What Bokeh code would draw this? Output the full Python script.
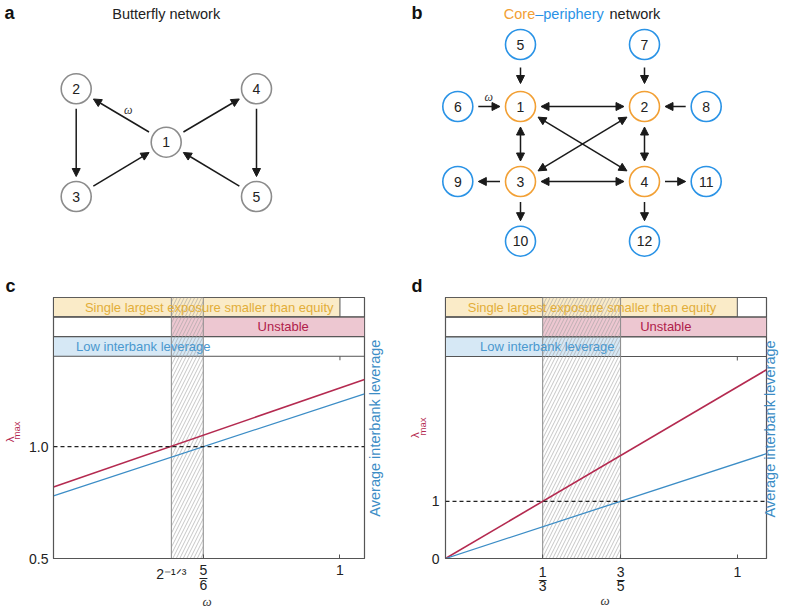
import math
from bokeh.plotting import figure
from bokeh.models import (Range1d, Arrow, NormalHead, ColumnDataSource, Label,
                          Span, FixedTicker, LinearAxis)
from bokeh.layouts import column, row
from bokeh.core.properties import value
from bokeh.embed import file_html
from bokeh.resources import INLINE

FONT = "Liberation Sans"
SERIF = "Liberation Serif"

# ---------------- data ----------------
# (a) butterfly network
a_nodes = [1, 2, 3, 4, 5]
a_edges = [(1, 2), (2, 3), (3, 1), (1, 4), (4, 5), (5, 1)]
# (b) core-periphery network
b_core = [1, 2, 3, 4]
b_periphery = [5, 6, 7, 8, 9, 10, 11, 12]
b_one_way = [(5, 1), (7, 2), (6, 1), (8, 2), (3, 9), (3, 10), (4, 11), (4, 12)]
b_two_way = [(1, 2), (1, 3), (2, 4), (3, 4), (1, 4), (2, 3)]

# (c) butterfly: lambda_max and average interbank leverage vs omega
c_omega = [0.65, 1.03]
c_lambda = [0.82, 1.30]
c_leverage = [0.78, 1.236]
c_unstable_from = 0.794      # 2^(-1/3)
c_lowlev_until = 0.833       # 5/6
c_exposure_until = 1.0
c_yticks = [0.5, 1.0]
c_ytick_labels = ["0.5", "1.0"]

# (d) core-periphery
d_omega = [0.0, 1.1]
d_lambda = [0.0, 3.3]
d_leverage = [0.0, 1.833]
d_unstable_from = 0.333      # 1/3
d_lowlev_until = 0.6         # 3/5
d_exposure_until = 1.0
d_yticks = [0.0, 1.0]
d_ytick_labels = ["0", "1"]

band_texts = ["Single largest exposure smaller than equity", "Unstable",
              "Low interbank leverage"]

# ---------------- styles ----------------
RED = "#B42A50"
BLUE = "#3C8DC6"
YEL_FILL, YEL_TEXT = "#FAEBC8", "#E2AE3A"
PINK_FILL, PINK_TEXT = "#EDC7D1", "#B0214B"
LB_FILL, LB_TEXT = "#D6E8F5", "#4A98CF"
ORANGE = "#F2A035"
NODE_BLUE = "#2A93E6"
GREY_NODE = "#8C8C8C"
FRAME = "#555555"
INK = "#1A1A1A"

# node layout (panel pixel grid)
A_POS = {1: (165.7, 141.7), 2: (75.7, 88.3), 3: (75.7, 196.0),
         4: (256.0, 88.3), 5: (256.0, 196.0)}
BX = [457.3, 520.0, 644.0, 705.7]
BY = [44.0, 106.0, 181.0, 240.7]
B_POS = {5: (BX[1], BY[0]), 7: (BX[2], BY[0]), 6: (BX[0], BY[1]),
         1: (BX[1], BY[1]), 2: (BX[2], BY[1]), 8: (BX[3], BY[1]),
         9: (BX[0], BY[2]), 3: (BX[1], BY[2]), 4: (BX[2], BY[2]),
         11: (BX[3], BY[2]), 10: (BX[1], BY[3]), 12: (BX[2], BY[3])}

TOP_H = 296


def net_fig(x0):
    p = figure(width=394, height=TOP_H, x_range=Range1d(x0, x0 + 394),
               y_range=Range1d(TOP_H, 0), x_axis_location=None,
               y_axis_location=None, toolbar_location=None,
               output_backend="svg", outline_line_color=None,
               min_border_left=0, min_border_right=0,
               min_border_top=0, min_border_bottom=0)
    p.grid.visible = False
    return p


def add_arrows(p, pos, edges, both, gap=5.0, r=15.5):
    x0, y0, x1, y1 = [], [], [], []
    for u, v in edges:
        ax, ay = pos[u]
        bx, by = pos[v]
        d = math.hypot(bx - ax, by - ay)
        ux, uy = (bx - ax) / d, (by - ay) / d
        x0.append(ax + ux * (r + gap)); y0.append(ay + uy * (r + gap))
        x1.append(bx - ux * (r + gap)); y1.append(by - uy * (r + gap))
    src = ColumnDataSource(dict(x0=x0, y0=y0, x1=x1, y1=y1))

    def head():
        return NormalHead(size=8, fill_color=INK, line_color=INK, line_width=1)
    p.add_layout(Arrow(source=src, x_start="x0", y_start="y0", x_end="x1",
                       y_end="y1", end=head(), start=head() if both else None,
                       line_color=INK, line_width=1.5))


def add_nodes(p, pos, nodes, color):
    xs = [pos[n][0] for n in nodes]
    ys = [pos[n][1] for n in nodes]
    p.scatter(x=xs, y=ys, size=30, marker="circle", fill_color="white",
              line_color=color, line_width=1.6)
    p.text(x=xs, y=ys, text=[str(n) for n in nodes], text_align="center",
           text_baseline="middle", text_font=value(FONT),
           text_font_size="14px", text_color="#222222")


def letter(p, x, y, t, baseline="middle"):
    p.text(x=[x], y=[y], text=[t], text_font=value(FONT),
           text_font_style="bold", text_font_size="18px",
           text_baseline=baseline, text_color="#111111")


# ---------------- panel a ----------------
fa = net_fig(0)
letter(fa, 4, 12.5, "a")
letter(fa, 5, 295.5, "c", baseline="bottom")
fa.text(x=[165.7], y=[13.5], text=["Butterfly network"], text_font=value(FONT),
        text_font_size="14.5px", text_align="center", text_baseline="middle",
        text_color="#222222")
add_arrows(fa, A_POS, a_edges, False, gap=4.5)
add_nodes(fa, A_POS, a_nodes, GREY_NODE)
fa.text(x=[127.7], y=[109.3], text=["ω"], text_font=value(SERIF),
        text_font_style="italic", text_font_size="12px", text_align="center",
        text_baseline="middle", text_color="#333333")

# ---------------- panel b ----------------
fb = net_fig(394)
letter(fb, 411, 12.5, "b")
letter(fb, 411, 295.5, "d", baseline="bottom")
fb.text(x=[503.3, 534.7, 609.0], y=[13.5] * 3,
        text=["Core", "–periphery", "network"],
        text_color=[ORANGE, NODE_BLUE, "#222222"], text_font=value(FONT),
        text_font_size="14.5px", text_baseline="middle")
add_arrows(fb, B_POS, [e for e in b_one_way if e[0] in (5, 7)], False, gap=7.5)
add_arrows(fb, B_POS, [e for e in b_one_way if e[0] not in (5, 7)], False, gap=5.0)
add_arrows(fb, B_POS, b_two_way, True, gap=5.0)
add_nodes(fb, B_POS, b_core, ORANGE)
add_nodes(fb, B_POS, b_periphery, NODE_BLUE)
fb.text(x=[488.3], y=[96.7], text=["ω"], text_font=value(SERIF),
        text_font_style="italic", text_font_size="12px", text_align="center",
        text_baseline="middle", text_color="#333333")


# ---------------- panels c, d ----------------
def text_axis(p, side, ticks, labels, size, standoff, font=FONT,
              style="normal", color="#222222", orientation=None):
    ax = LinearAxis(ticker=FixedTicker(ticks=list(ticks)),
                    major_label_overrides=dict(zip(ticks, labels)),
                    major_label_standoff=standoff, major_label_text_font=font,
                    major_label_text_font_size=size,
                    major_label_text_font_style=style,
                    major_label_text_color=color, axis_line_color=None,
                    major_tick_line_color=None, minor_tick_line_color=None,
                    major_tick_in=0, major_tick_out=0)
    if orientation is not None:
        ax.major_label_orientation = orientation
    p.add_layout(ax, side)
    return ax


def chart(cfg):
    W, H = 394, 613 - TOP_H
    bl, br, bt, bb = cfg["borders"]
    fw, fh = W - bl - br, H - bt - bb
    xr = cfg["xr"]
    ylo, ytop = cfg["ylo"], cfg["ytop"]
    p = figure(width=W, height=H, x_range=Range1d(*xr),
               y_range=Range1d(ylo, ytop), toolbar_location=None,
               output_backend="svg", min_border_left=bl, min_border_right=br,
               min_border_top=bt, min_border_bottom=bb)
    p.grid.visible = False
    p.outline_line_color = FRAME
    p.outline_line_width = 1.2

    left_ref = cfg["ox"] + bl
    top_ref = TOP_H + bt

    def X(px):
        return xr[0] + (px - left_ref) / fw * (xr[1] - xr[0])

    def Y(py):
        return ytop - (py - top_ref) / fh * (ytop - ylo)

    def DY(dpx):
        return dpx / fh * (ytop - ylo)

    # bands
    edges = [Y(top_ref + v) for v in (0, 19.5, 39.3, 59)]
    b1 = (edges[1], edges[0]); b2 = (edges[2], edges[1]); b3 = (edges[3], edges[2])
    p.quad(left=[xr[0]], right=[cfg["exposure"]], bottom=[b1[0]], top=[b1[1]],
           fill_color=YEL_FILL, line_color=FRAME, line_width=1)
    p.quad(left=[cfg["unstable"]], right=[xr[1]], bottom=[b2[0]], top=[b2[1]],
           fill_color=PINK_FILL, line_color=None)
    p.quad(left=[xr[0]], right=[cfg["lowlev"]], bottom=[b3[0]], top=[b3[1]],
           fill_color=LB_FILL, line_color=None)
    p.quad(left=[xr[0]] * 3, right=[xr[1]] * 3, bottom=[b1[0], b2[0], b3[0]],
           top=[b1[1], b2[1], b3[1]], fill_color=None, line_color=FRAME,
           line_width=1)
    # hatched region
    p.quad(left=[cfg["unstable"]], right=[cfg["lowlev"]], bottom=[ylo],
           top=[ytop], fill_color=None, hatch_pattern="/",
           hatch_color="#A0A0A0", hatch_scale=7, hatch_weight=0.6,
           line_color="#8A8A8A", line_width=1)
    # mirrored tick at omega = 1 on top of the plot area
    p.segment(x0=[1.0], y0=[b3[0]], x1=[1.0], y1=[b3[0] - DY(4)],
              line_color=FRAME, line_width=1)
    # data lines
    p.line(cfg["omega"], cfg["lambda"], line_color=RED, line_width=1.6)
    p.line(cfg["omega"], cfg["leverage"], line_color=BLUE, line_width=1.3)
    p.add_layout(Span(location=1.0, dimension="width", line_color="#222222",
                      line_dash="4 3", line_width=1.3))

    # band texts (inside the frame)
    ymid = [top_ref + 9.75, top_ref + 29.4, top_ref + 49.1]
    for t, xpx, ypx, col in zip(band_texts, cfg["band_x"], ymid,
                                (YEL_TEXT, PINK_TEXT, LB_TEXT)):
        p.add_layout(Label(x=X(xpx), y=Y(ypx), text=t, text_font=FONT,
                           text_font_size="13px", text_color=col,
                           text_align="center", text_baseline="middle"))

    # main axes
    xt = cfg["xmain"]
    p.xaxis.ticker = FixedTicker(ticks=[t for t, _ in xt])
    p.xaxis.major_label_overrides = {t: s for t, s in xt}
    p.xaxis.major_tick_in = 4
    p.xaxis.major_tick_out = 0
    p.xaxis.major_label_standoff = cfg["xstand"]
    p.yaxis.ticker = FixedTicker(ticks=cfg["yticks"])
    p.yaxis.major_label_overrides = dict(zip(cfg["yticks"], cfg["ylabels"]))
    p.yaxis.major_tick_in = 0
    p.yaxis.major_tick_out = 0
    p.yaxis.major_label_standoff = cfg["ystand"]
    for ax in (p.xaxis, p.yaxis):
        ax.axis_line_color = FRAME
        ax.major_tick_line_color = FRAME
        ax.minor_tick_line_color = None
        ax.major_label_text_font = FONT
        ax.major_label_text_font_size = "14px"
        ax.major_label_text_color = "#222222"

    # extra text axes below (tick labels of the fractions, omega)
    for ticks, labels, size, stand in cfg["below"]:
        text_axis(p, "below", ticks, labels, size, stand)
    text_axis(p, "below", [X(cfg["omega_x"])], ["ω"], "13px", cfg["omega_stand"],
              font=SERIF, style="italic", color="#333333")
    # lambda_max on the left: lambda first, then the subscript
    text_axis(p, "left", [Y(cfg["lam_y"])], ["λ"], "11.5px", cfg["lam_stand"],
              color=RED, orientation="vertical")
    text_axis(p, "left", [Y(cfg["max_y"])], ["max"], "9.5px", cfg["max_stand"],
              color=RED, orientation="vertical")
    # right-hand axis title
    text_axis(p, "right", [Y(517)], ["Average interbank leverage"], "14.5px",
              cfg["right_stand"], color=BLUE, orientation=math.pi / 2)
    return p


c_cfg = dict(borders=(53, 30, 1, 54), ox=0, xr=(c_omega[0], c_omega[1]),
             ylo=0.5, ytop=0.5 + 262 / 224.6, unstable=c_unstable_from,
             lowlev=c_lowlev_until, exposure=c_exposure_until, omega=c_omega,
             **{"lambda": c_lambda}, leverage=c_leverage,
             yticks=c_yticks, ylabels=c_ytick_labels, ystand=5,
             xmain=[(c_lowlev_until, "5"), (c_exposure_until, "1")], xstand=6,
             below=[([c_unstable_from], ["2⁻¹ᐟ³"], "14px", -12),
                    ([c_lowlev_until], ["–"], "14px", -16),
                    ([c_lowlev_until], ["6"], "14px", -8)],
             omega_x=206.7, omega_stand=1,
             lam_y=439.5, lam_stand=10, max_y=430.5, max_stand=-21,
             right_stand=11, band_x=(208.7, 282.7, 142.8))
fc = chart(c_cfg)

d_cfg = dict(borders=(51, 22, 1, 55), ox=394, xr=(d_omega[0], d_omega[1]),
             ylo=0.0, ytop=261 / 57.2, unstable=d_unstable_from,
             lowlev=d_lowlev_until, exposure=d_exposure_until, omega=d_omega,
             **{"lambda": d_lambda}, leverage=d_leverage,
             yticks=d_yticks, ylabels=d_ytick_labels, ystand=6,
             xmain=[(d_unstable_from, "1"), (d_lowlev_until, "3"),
                    (d_exposure_until, "1")], xstand=8,
             below=[([d_unstable_from, d_lowlev_until], ["–", "–"], "14px", -9),
                    ([d_unstable_from, d_lowlev_until], ["3", "5"], "14px", -9)],
             omega_x=604.7, omega_stand=-1,
             lam_y=434.5, lam_stand=8, max_y=426, max_stand=-22,
             right_stand=3, band_x=(591.5, 665.3, 546.8))
fd = chart(d_cfg)

layout = column(row(fa, fb), row(fc, fd))
open("out.html", "w").write(file_html(layout, INLINE))
